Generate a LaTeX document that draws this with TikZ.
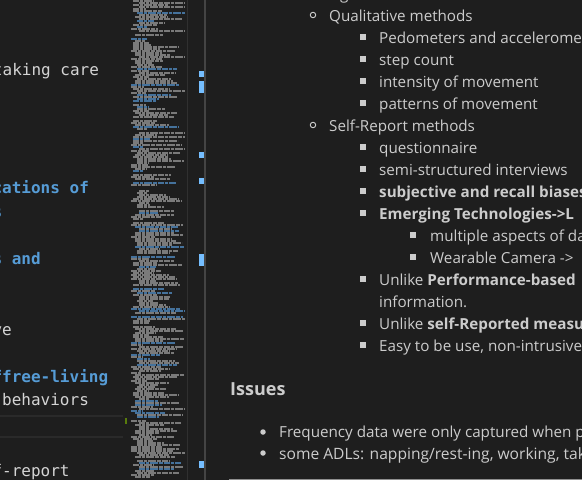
\documentclass[tikz,border=0pt]{standalone}
\usepackage{fontspec}
\setmainfont{Open Sans}
\newfontfamily\codefont{DejaVu Sans Mono}
\definecolor{bg}{HTML}{1E1E1E}
\definecolor{fg}{HTML}{CCCCCC}
\definecolor{codefg}{HTML}{D4D4D4}
\definecolor{mdblue}{HTML}{569CD6}
\definecolor{markblue}{HTML}{75BEFF}
\definecolor{divider}{HTML}{444444}
\definecolor{minisep}{HTML}{303030}
\definecolor{hlline}{HTML}{2A2A2A}
\definecolor{minig}{HTML}{7A7A7A}
\definecolor{minib}{HTML}{45729C}
\definecolor{gitgreen}{HTML}{587C0C}
\definecolor{hrcol}{HTML}{8F8F8F}
\tikzset{
  code/.style={font=\codefont\fontsize{16}{19}\selectfont, text=codefg, inner sep=0pt, anchor=base west},
  codeb/.style={font=\codefont\bfseries\fontsize{16}{19}\selectfont, text=mdblue, inner sep=0pt, anchor=base west},
  pv/.style={font=\fontsize{15.2}{18}\selectfont, text=fg, inner sep=0pt, anchor=base west},
  pvhead/.style={font=\bfseries\fontsize{18}{22}\selectfont, text=fg, inner sep=0pt, anchor=base west},
  circbul/.style={circle, draw=fg, line width=0.9pt, minimum size=5.5pt, inner sep=0pt},
  sqbul/.style={rectangle, fill=fg, minimum size=5.5pt, inner sep=0pt},
  discbul/.style={circle, fill=fg, minimum size=5.5pt, inner sep=0pt},
  scrollmark/.style={fill=markblue},
}
\begin{document}
\begin{tikzpicture}[x=1pt,y=-1pt]
\useasboundingbox (0,0) rectangle (582,480);
\fill[bg] (0,0) rectangle (582,480);
\clip (0,0) rectangle (582,480);

% ---------- editor text ----------
\node[code]  (e0)  at (-7.2,75.4)  {taking care};
\node[codeb] (e5)  at (-7.63,193.4) {cations of};
\node[codeb] (e6)  at (-7.63,217.0) {s};
\node[codeb] (e8)  at (-7.63,264.2) {s and};
\node[code]  (e11) at (-7.63,335.0) {ve};
\node[codeb] (e13) at (-7.63,382.2) {ffree-living};
\node[code]  (e14) at (2.0,405.8)   {behaviors};
\node[code]  (e17) at (-7.63,476.6) {f-report};

% current line highlight
\fill[hlline] (0,415) rectangle (123,417);
\fill[hlline] (0,436) rectangle (123,438);
\fill[gitgreen] (125,418) rectangle (127,424);

% ---------- minimap ----------
\pgfmathsetseed{4}
\foreach \r in {0,...,238}{
  \pgfmathsetmacro\yy{1+2*\r}
  \pgfmathtruncatemacro\k{random(1,100)}
  \pgfmathtruncatemacro\ind{random(0,4)*2}
  \pgfmathsetmacro\len{min(random(10,52),54-\ind)}
  \ifnum\k>94 \else
    \ifnum\k<16 \def\mc{minib}\else\def\mc{minig}\fi
    \draw[\mc, line width=1.3pt, dash pattern=on 6pt off 1pt on 3pt off 1pt on 8pt off 1pt on 4pt off 1pt]
      (131+\ind,\yy) -- ++(\len,0);
  \fi
}
\draw[minisep, line width=1pt] (187.5,0) -- (187.5,480);

% ---------- scrollbar ----------
\fill[divider] (204,0) rectangle (206,480);
\fill[scrollmark] (199,71) rectangle (204,77);
\fill[scrollmark] (199,81) rectangle (204,93);
\fill[scrollmark] (199,152) rectangle (204,158);
\fill[scrollmark] (199,178) rectangle (204,184);
\fill[scrollmark] (199,254) rectangle (204,266);
\fill[scrollmark] (199,461) rectangle (204,468);

% ---------- preview ----------
\node[pv] (gtop) at (340,-1) {g};

\node[circbul] (b0) at (313,15) {};
\node[pv] (t0) at (329,21) {Qualitative methods};
\node[sqbul] (b1) at (363,37) {};
\node[pv] (t1) at (379,43) {Pedometers and accelerometers};
\node[sqbul] (b2) at (363,59) {};
\node[pv] (t2) at (379,65) {step count};
\node[sqbul] (b3) at (363,81) {};
\node[pv] (t3) at (379,87) {intensity of movement};
\node[sqbul] (b4) at (363,103) {};
\node[pv] (t4) at (379,109) {patterns of movement};
\node[circbul] (b5) at (313,125) {};
\node[pv] (t5) at (329,131) {Self-Report methods};
\node[sqbul] (b6) at (363,147) {};
\node[pv] (t6) at (379,153) {questionnaire};
\node[sqbul] (b7) at (363,169) {};
\node[pv] (t7) at (379,175) {semi-structured interviews};
\node[sqbul] (b8) at (363,191) {};
\node[pv] (t8) at (379,197) {\textbf{subjective and recall biases}};
\node[sqbul] (b9) at (363,213) {};
\node[pv] (t9) at (379,219) {\textbf{Emerging Technologies->L}};
\node[sqbul] (b10) at (413,235) {};
\node[pv] (t10) at (430,241) {multiple aspects of data};
\node[sqbul] (b11) at (413,257) {};
\node[pv] (t11) at (430,263) {Wearable Camera ->};
\node[sqbul] (b12) at (363,279) {};
\node[pv] (t12) at (379,285) {Unlike \textbf{Performance-based}};
\node[pv] (t13) at (379,307) {information.};
\node[sqbul] (b14) at (363,323) {};
\node[pv] (t14) at (379,329) {Unlike \textbf{self-Reported measures}};
\node[sqbul] (b15) at (363,345) {};
\node[pv] (t15) at (379,351) {Easy to be use, non-intrusive};

\node[pvhead] (issues) at (230,395) {Issues};

\node[discbul] (d1) at (263,432) {};
\node[pv] (i1) at (279,437) {Frequency data were only captured when p};
\node[discbul] (d2) at (263,453) {};
\node[pv, font=\fontsize{15.6}{18}\selectfont] (i2) at (279,459) {some ADLs: napping/rest-ing, working, tak};

\fill[hrcol] (229,478.5) rectangle (582,480);
\end{tikzpicture}
\end{document}
